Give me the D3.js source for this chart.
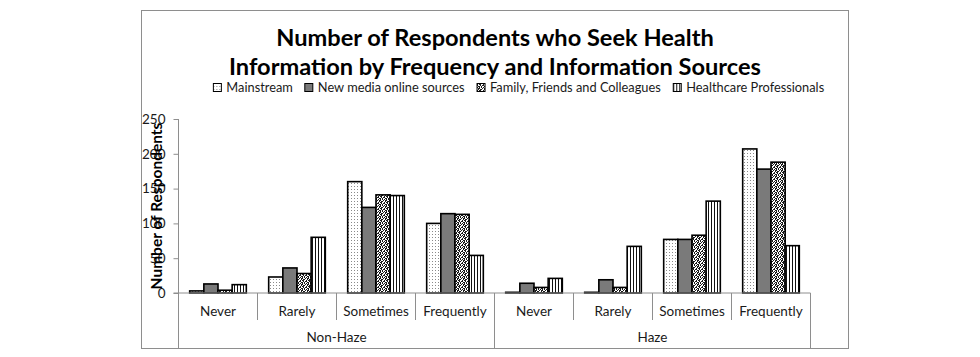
<!DOCTYPE html>
<html>
<head>
<meta charset="utf-8">
<script src="https://cdn.jsdelivr.net/npm/d3@7"></script>
<style>
  html, body { margin: 0; padding: 0; background: #fff; }
  svg { display: block; }
  text { font-family: Lato, "Open Sans", sans-serif; }
</style>
</head>
<body>
<svg id="chart" width="980" height="357"></svg>
<script>
// ---------- data ----------
const titleLines = ["Number of Respondents who Seek Health", "Information by Frequency and Information Sources"];
const yTitle = "Number of Respondents";
const groups = ["Non-Haze", "Haze"];
const frequencies = ["Never", "Rarely", "Sometimes", "Frequently"];
const seriesNames = ["Mainstream", "New media online sources", "Family, Friends and Colleagues", "Healthcare Professionals"];
// values ordered: Non-Haze (Never, Rarely, Sometimes, Frequently), Haze (Never, Rarely, Sometimes, Frequently)
const mainstream = [3, 23, 160, 100, 1, 1, 77, 207];
const newMedia   = [13, 36, 123, 114, 14, 19, 77, 178];
const family     = [4, 28, 141, 113, 8, 8, 83, 188];
const healthcare = [12, 80, 140, 54, 21, 67, 132, 68];
const yTicks = [0, 50, 100, 150, 200, 250];

const seriesValues = [mainstream, newMedia, family, healthcare];

// ---------- layout ----------
const svg = d3.select("#chart");
const box = {x0: 141.5, y0: 10.5, x1: 848.5, y1: 348.5};
const plot = {left: 178.5, right: 810.5, top: 119, bottom: 293};
const axisColor = "#8e8e8e";
const textColor = "#1a1a1a";

// patterns
const defs = svg.append("defs");
const pMain = defs.append("pattern").attr("id", "pat0").attr("patternUnits", "userSpaceOnUse")
  .attr("width", 3).attr("height", 3);
pMain.append("rect").attr("width", 3).attr("height", 3).attr("fill", "#fff");
pMain.append("rect").attr("x", 0).attr("y", 0).attr("width", 1).attr("height", 1).attr("fill", "#8a8a8a");

const pNew = defs.append("pattern").attr("id", "pat1").attr("patternUnits", "userSpaceOnUse")
  .attr("width", 4).attr("height", 4);
pNew.append("rect").attr("width", 4).attr("height", 4).attr("fill", "#7a7a7a");

const pFam = defs.append("pattern").attr("id", "pat2").attr("patternUnits", "userSpaceOnUse")
  .attr("width", 6).attr("height", 6);
pFam.append("rect").attr("width", 6).attr("height", 6).attr("fill", "#1a1a1a");
const speckle = [[0,0],[3,0],[5,0],[1,1],[3,1],[5,1],[0,2],[3,2],[4,2],[0,3],[2,3],[5,3],[1,4],[4,4],[5,4],[1,5],[2,5],[4,5]];
speckle.forEach(([px, py]) => {
  pFam.append("rect").attr("x", px).attr("y", py).attr("width", 1).attr("height", 1).attr("fill", "#fff");
});

const pHc = defs.append("pattern").attr("id", "pat3").attr("patternUnits", "userSpaceOnUse")
  .attr("width", 3).attr("height", 3);
pHc.append("rect").attr("width", 3).attr("height", 3).attr("fill", "#fff");
pHc.append("rect").attr("x", 0).attr("y", 0).attr("width", 1).attr("height", 3).attr("fill", "#111");

const fills = seriesNames.map((d, i) => `url(#pat${i})`);

// outer border
svg.append("rect").attr("x", box.x0).attr("y", box.y0)
  .attr("width", box.x1 - box.x0).attr("height", box.y1 - box.y0)
  .attr("fill", "#fff").attr("stroke", axisColor).attr("stroke-width", 1);

// title
const cx = (box.x0 + box.x1) / 2;
svg.append("text").attr("x", cx).attr("y", 46).attr("text-anchor", "middle")
  .attr("font-size", 23.6).attr("font-weight", "bold").attr("fill", "#000").text(titleLines[0]);
svg.append("text").attr("x", cx).attr("y", 75).attr("text-anchor", "middle")
  .attr("font-size", 23.6).attr("font-weight", "bold").attr("fill", "#000").text(titleLines[1]);

// scales
const categories = [];
groups.forEach(g => frequencies.forEach(f => categories.push(g + "|" + f)));
const xGroup = d3.scaleBand().domain(groups).range([plot.left, plot.right]);
const xCat = d3.scaleBand().domain(categories).range([plot.left, plot.right]);
const xSeries = d3.scaleBand().domain(seriesNames).range([0, xCat.bandwidth()])
  .paddingInner(0).paddingOuter(0.79);
const y = d3.scaleLinear().domain([0, 250]).range([plot.bottom, plot.top]);

// y axis
const yAxis = d3.axisLeft(y).tickValues(yTicks).tickSize(5).tickPadding(8);
const gy = svg.append("g").attr("transform", `translate(${plot.left},0)`).call(yAxis);
gy.select(".domain").remove();
gy.selectAll(".tick line").attr("stroke", axisColor);
gy.selectAll(".tick text").attr("font-size", 13.5).attr("fill", textColor)
  .style("font-family", "Lato, sans-serif");
svg.append("line").attr("x1", plot.left).attr("x2", plot.left)
  .attr("y1", plot.top).attr("y2", box.y1).attr("stroke", axisColor);

// y title
svg.append("text").attr("transform", `translate(162,${(plot.top + plot.bottom) / 2}) rotate(-90)`)
  .attr("text-anchor", "middle").attr("font-size", 15.5).attr("font-weight", "bold")
  .attr("fill", "#000").text(yTitle);

// bars
const barData = [];
categories.forEach((c, ci) => seriesNames.forEach((s, si) => {
  barData.push({cat: c, series: s, si, value: seriesValues[si][ci]});
}));
svg.append("g").selectAll("rect").data(barData).join("rect")
  .attr("x", d => xCat(d.cat) + xSeries(d.series))
  .attr("y", d => y(d.value))
  .attr("width", xSeries.bandwidth())
  .attr("height", d => y(0) - y(d.value))
  .attr("fill", d => fills[d.si])
  .attr("stroke", "#000").attr("stroke-width", 1.6);

// x axis baseline
svg.append("line").attr("x1", plot.left - 5).attr("x2", plot.right)
  .attr("y1", y(0)).attr("y2", y(0)).attr("stroke", axisColor);

// category separators
categories.forEach((c, i) => {
  if (i === 0) return;
  const xx = xCat(c);
  const isGroupEdge = frequencies.indexOf(c.split("|")[1]) === 0;
  svg.append("line").attr("x1", xx).attr("x2", xx)
    .attr("y1", y(0)).attr("y2", isGroupEdge ? box.y1 : 320).attr("stroke", axisColor);
});
svg.append("line").attr("x1", plot.right).attr("x2", plot.right)
  .attr("y1", y(0)).attr("y2", box.y1).attr("stroke", axisColor);

// category labels
svg.append("g").selectAll("text").data(categories).join("text")
  .attr("x", d => xCat(d) + xCat.bandwidth() / 2).attr("y", 316)
  .attr("text-anchor", "middle").attr("font-size", 13.5).attr("fill", textColor)
  .text(d => d.split("|")[1]);

// group labels
svg.append("g").selectAll("text").data(groups).join("text")
  .attr("x", d => xGroup(d) + xGroup.bandwidth() / 2).attr("y", 342)
  .attr("text-anchor", "middle").attr("font-size", 13.5).attr("fill", textColor)
  .text(d => d);

// legend
const legend = svg.append("g");
const items = legend.selectAll("g").data(seriesNames).join("g");
items.append("rect").attr("x", 0).attr("y", -8.5).attr("width", 8).attr("height", 8)
  .attr("fill", (d, i) => fills[i]).attr("stroke", "#000").attr("stroke-width", 1);
items.append("text").attr("x", 13).attr("y", 0).attr("font-size", 12.8).attr("fill", textColor).text(d => d);
let xpos = 0;
const gap = 12;
items.each(function() {
  const w = this.getBBox().width;
  d3.select(this).attr("transform", `translate(${xpos},0)`);
  xpos += w + gap;
});
const totalW = xpos - gap;
legend.attr("transform", `translate(${519 - totalW / 2},92)`);
</script>
</body>
</html>
